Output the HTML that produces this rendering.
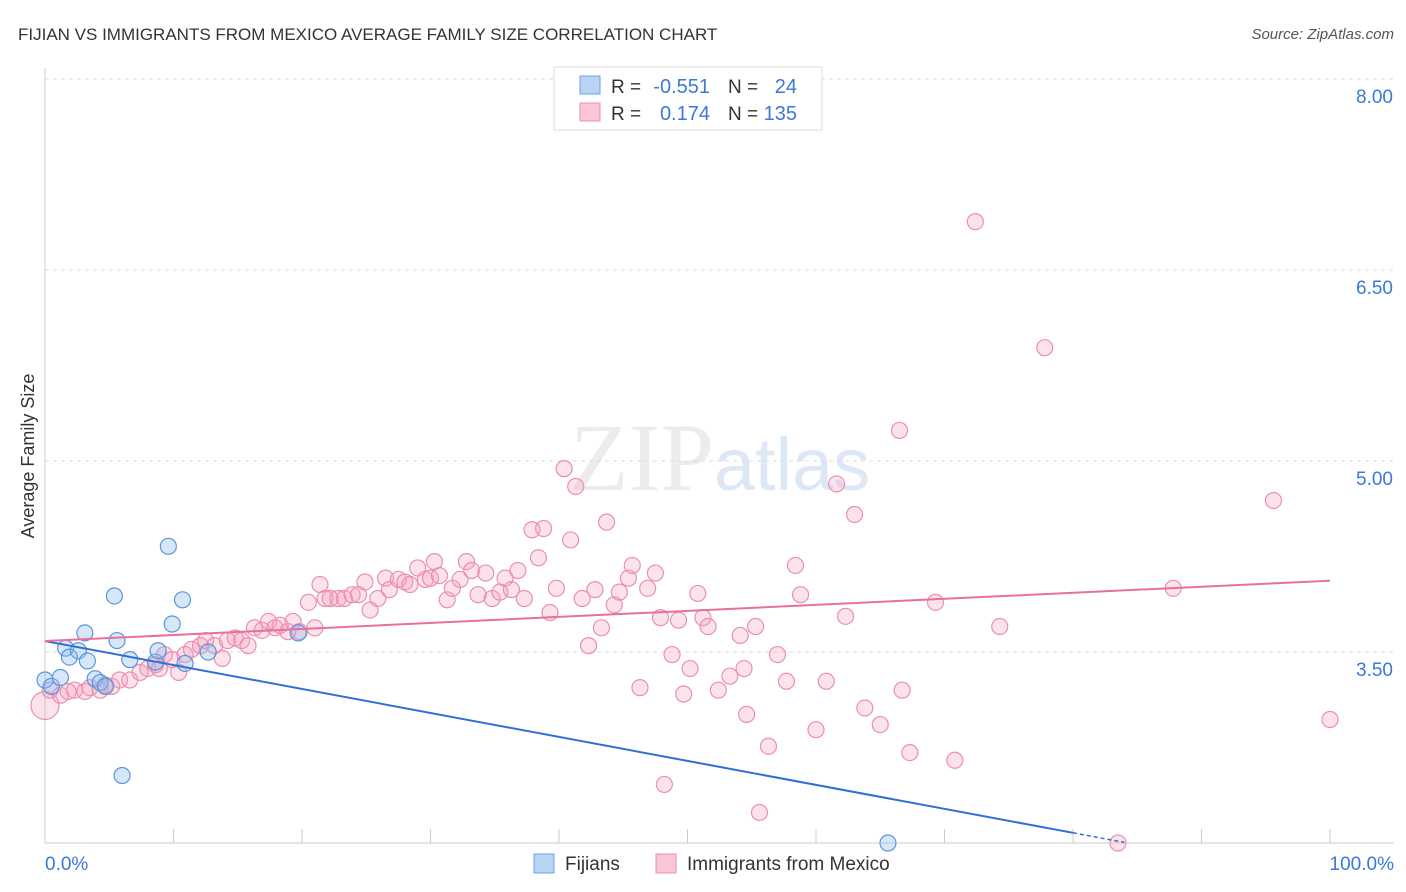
<!DOCTYPE html>
<html><head><meta charset="utf-8"><style>
body{margin:0;background:#fff;font-family:"Liberation Sans",sans-serif}
</style></head><body>
<svg id="c" width="1406" height="892" style="display:block">
<text x="18" y="40" font-size="17" fill="#333">FIJIAN VS IMMIGRANTS FROM MEXICO AVERAGE FAMILY SIZE CORRELATION CHART</text>
<text x="1394" y="39" font-size="15" fill="#555" font-style="italic" text-anchor="end">Source: ZipAtlas.com</text>
<text x="720" y="490" font-size="96" fill="#ececec" text-anchor="middle" font-family="Liberation Serif">ZIP<tspan fill="#dde8f6" font-family="Liberation Sans" font-size="74">atlas</tspan></text>
<g id="grid"></g><g id="axes"></g><g id="pts"></g><g id="trend"></g>
<text x="34" y="456" font-size="18" fill="#333" transform="rotate(-90 34 456)" text-anchor="middle">Average Family Size</text>
<g>
<rect x="554" y="67" width="268" height="63" fill="#fff" stroke="#ddd"/>
<rect x="580" y="76" width="20" height="18" fill="#b8d4f5" stroke="#6fa0e0"/>
<rect x="580" y="103" width="20" height="18" fill="#f9c6d5" stroke="#ec8fae"/>
<text x="611" y="93" font-size="19" fill="#333">R =</text>
<text x="710" y="93" font-size="20" fill="#3b78d8" text-anchor="end">-0.551</text>
<text x="728" y="93" font-size="19" fill="#333">N =</text>
<text x="797" y="93" font-size="20" fill="#3b78d8" text-anchor="end">24</text>
<text x="611" y="120" font-size="19" fill="#333">R =</text>
<text x="710" y="120" font-size="20" fill="#3b78d8" text-anchor="end">0.174</text>
<text x="728" y="120" font-size="19" fill="#333">N =</text>
<text x="797" y="120" font-size="20" fill="#3b78d8" text-anchor="end">135</text>
</g>
<g>
<rect x="534" y="854" width="20" height="19" fill="#b8d4f5" stroke="#6fa0e0"/>
<text x="565" y="870" font-size="19" fill="#333">Fijians</text>
<rect x="656" y="854" width="20" height="19" fill="#f9c6d5" stroke="#ec8fae"/>
<text x="687" y="870" font-size="19" fill="#333">Immigrants from Mexico</text>
</g>
</svg>
<script>
const yTicks=[8.0,6.5,5.0,3.5];
const yTickLabels=["8.00","6.50","5.00","3.50"];
const xLabels=["0.0%","100.0%"];
const blueX=[0,0.5,1.2,1.6,1.9,2.6,3.1,3.3,3.9,4.3,4.7,5.4,5.6,6.0,6.6,8.6,8.8,9.6,9.9,10.7,10.9,12.7,19.7,65.6];
const blueY=[3.28,3.23,3.30,3.53,3.46,3.51,3.65,3.43,3.29,3.26,3.23,3.94,3.59,2.53,3.44,3.42,3.51,4.33,3.72,3.91,3.41,3.50,3.65,2.00];
const pinkX=[0,0.4,1.2,1.8,2.3,3.1,3.5,4.3,4.7,5.2,5.8,6.6,7.4,8.0,8.6,8.9,9.3,9.9,10.4,10.9,11.4,12.1,12.5,13.2,13.8,14.2,14.8,15.3,15.8,16.3,16.9,17.4,17.9,18.3,18.9,19.3,19.8,20.5,21.0,21.4,21.8,22.2,22.8,23.3,23.9,24.4,24.9,25.3,25.9,26.5,26.8,27.5,28.0,28.4,29.0,29.6,30.0,30.3,30.7,31.3,31.7,32.3,32.8,33.2,33.7,34.3,34.8,35.4,35.8,36.3,36.8,37.3,37.9,38.4,38.8,39.3,39.8,40.4,40.9,41.3,41.8,42.3,42.8,43.3,43.7,44.3,44.7,45.4,45.7,46.3,46.9,47.5,47.9,48.2,48.8,49.3,49.7,50.2,50.8,51.2,51.6,52.4,53.3,54.1,54.4,54.6,55.3,55.6,56.3,57.0,57.7,58.4,58.8,60.0,60.8,61.6,62.3,63.0,63.8,65.0,66.5,66.7,67.3,69.3,70.8,72.4,74.3,77.8,83.5,87.8,95.6,100];
const pinkY=[3.08,3.20,3.16,3.19,3.20,3.19,3.22,3.20,3.24,3.23,3.28,3.28,3.34,3.37,3.40,3.37,3.48,3.44,3.34,3.48,3.52,3.55,3.59,3.55,3.45,3.59,3.61,3.59,3.55,3.69,3.67,3.74,3.69,3.71,3.66,3.74,3.66,3.89,3.69,4.03,3.92,3.92,3.92,3.92,3.95,3.95,4.05,3.83,3.92,4.08,3.99,4.07,4.05,4.03,4.16,4.07,4.08,4.21,4.10,3.91,4.00,4.07,4.21,4.14,3.95,4.12,3.92,3.97,4.08,3.99,4.14,3.92,4.46,4.24,4.47,3.81,4.00,4.94,4.38,4.80,3.92,3.55,3.99,3.69,4.52,3.87,3.97,4.08,4.18,3.22,4.00,4.12,3.77,2.46,3.48,3.75,3.17,3.37,3.96,3.77,3.70,3.20,3.31,3.63,3.37,3.01,3.70,2.24,2.76,3.48,3.27,4.18,3.95,2.89,3.27,4.82,3.78,4.58,3.06,2.93,5.24,3.20,2.71,3.89,2.65,6.88,3.70,5.89,2.00,4.00,4.69,2.97];
const blueTrend=[3.586,2.08];const pinkTrend=[3.586,4.06];
const L=45,R=1330,T=79,B=843,yMin=2,yMax=8;
const X=p=>L+(R-L)*p/100, Y=v=>B-(B-T)*(v-yMin)/(yMax-yMin);
const NS="http://www.w3.org/2000/svg";
function mk(t,a,par){const e=document.createElementNS(NS,t);for(const k in a)e.setAttribute(k,a[k]);document.getElementById(par).appendChild(e);return e;}
yTicks.forEach((v,i)=>{
 const g=mk('line',{x1:L,x2:1394,y1:Y(v),y2:Y(v),stroke:'#ddd','stroke-dasharray':'4,4'},'grid');
 
 
 const t=mk('text',{x:1393,y:Y(v)+24,'font-size':19,fill:'#3b78d8','text-anchor':'end'},'axes');t.textContent=yTickLabels[i];
 
 
});
const ax=mk('line',{x1:L,x2:1394,y1:B,y2:B,stroke:'#ccc'},'axes');


const ay=mk('line',{x1:L,x2:L,y1:68,y2:B,stroke:'#ccc'},'axes');


for(let i=0;i<=10;i++){const t=mk('line',{x1:X(i*10),x2:X(i*10),y1:B,y2:B-14,stroke:'#ccc'},'axes');
 
 }
[[0,'start',45],[100,'end',1394]].forEach((d,i)=>{const t=mk('text',{x:d[2],y:870,'font-size':19,fill:'#3b78d8','text-anchor':d[1]},'axes');t.textContent=xLabels[i];
 
 });
pinkX.forEach((x,i)=>{const r=i==0?14:8;const c=mk('circle',{cx:X(x),cy:Y(pinkY[i]),r:r,fill:'rgba(244,160,190,0.3)',stroke:'#ec8fae','stroke-width':1.2},'pts');
 
 });
blueX.forEach((x,i)=>{const c=mk('circle',{cx:X(x),cy:Y(blueY[i]),r:8,fill:'rgba(140,185,240,0.35)',stroke:'#5b95dd','stroke-width':1.2},'pts');
 
 });
const bt=v=>blueTrend[0]+(blueTrend[1]-blueTrend[0])*v/80;
const b1=mk('line',{x1:X(0),y1:Y(bt(0)),x2:X(80),y2:Y(bt(80)),stroke:'#2f6fd6','stroke-width':2},'trend');


const b2=mk('line',{x1:X(80),y1:Y(bt(80)),x2:X(84),y2:Y(bt(84)),stroke:'#2f6fd6','stroke-width':1.5,'stroke-dasharray':'4,3'},'trend');


const p1=mk('line',{x1:X(0),y1:Y(pinkTrend[0]),x2:X(100),y2:Y(pinkTrend[1]),stroke:'#e8709a','stroke-width':2},'trend');


</script>
</body></html>
